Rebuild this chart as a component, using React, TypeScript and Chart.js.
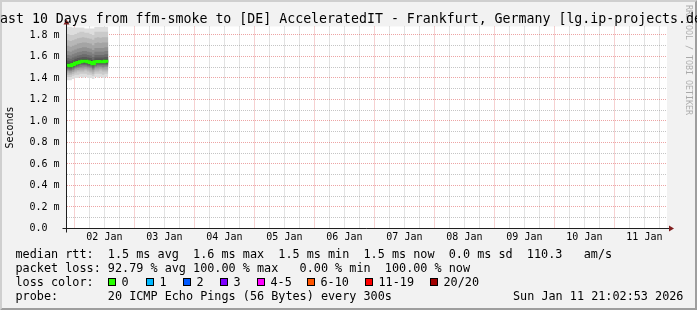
import { useEffect, useRef } from 'react';
import { Chart, registerables } from 'chart.js';

Chart.register(...registerables);

const W = 697;
const H = 310;

// ---- text ----
const titleText = 'Last 10 Days from ffm-smoke to [DE] AcceleratedIT - Frankfurt, Germany [lg.ip-projects.de]';
const yAxisTitle = 'Seconds';
const dayLabels = ['02 Jan', '03 Jan', '04 Jan', '05 Jan', '06 Jan', '07 Jan', '08 Jan', '09 Jan', '10 Jan', '11 Jan'];
const yGridValues = [0, 0.1, 0.2, 0.3, 0.4, 0.5, 0.6, 0.7, 0.8, 0.9, 1.0, 1.1, 1.2, 1.3, 1.4, 1.5, 1.6, 1.7, 1.8];
const yTickLabels = ['0.0  ', '0.2 m', '0.4 m', '0.6 m', '0.8 m', '1.0 m', '1.2 m', '1.4 m', '1.6 m', '1.8 m'];
const rangeHours = 240;
const firstMidnightHour = 2.952;
const yMax = 1.879;

// ---- data (ms), hourly steps from graph start ----
const stepStartHours = [0, 0.95, 1.95, 2.95, 3.95, 4.95, 5.95, 6.95, 7.95, 8.95, 9.95, 10.95, 11.95, 12.95, 13.95, 14.95, 15.95];
const dataEndHour = 16.5;
const medianRtt = [1.525, 1.518, 1.515, 1.525, 1.538, 1.545, 1.552, 1.555, 1.556, 1.552, 1.545, 1.532, 1.552, 1.553, 1.552, 1.552, 1.556];

const ping01 = [1.39, 1.38, 1.38, 1.39, 1.40, 1.40, 1.41, 1.40, 1.41, 1.40, 1.40, 1.39, 1.41, 1.40, 1.41, 1.40, 1.41];
const ping02 = [1.42, 1.41, 1.41, 1.42, 1.43, 1.43, 1.44, 1.44, 1.44, 1.43, 1.43, 1.42, 1.44, 1.44, 1.44, 1.43, 1.44];
const ping03 = [1.44, 1.43, 1.43, 1.44, 1.45, 1.46, 1.46, 1.46, 1.47, 1.46, 1.45, 1.44, 1.46, 1.46, 1.47, 1.46, 1.46];
const ping04 = [1.455, 1.45, 1.445, 1.455, 1.47, 1.475, 1.48, 1.48, 1.485, 1.48, 1.47, 1.46, 1.48, 1.48, 1.485, 1.48, 1.48];
const ping05 = [1.47, 1.465, 1.46, 1.47, 1.485, 1.49, 1.495, 1.495, 1.50, 1.495, 1.49, 1.475, 1.495, 1.495, 1.50, 1.495, 1.50];
const ping06 = [1.48, 1.475, 1.47, 1.48, 1.495, 1.50, 1.505, 1.51, 1.51, 1.505, 1.50, 1.485, 1.505, 1.51, 1.51, 1.505, 1.51];
const ping07 = [1.49, 1.485, 1.48, 1.49, 1.505, 1.51, 1.52, 1.52, 1.52, 1.515, 1.51, 1.495, 1.515, 1.52, 1.52, 1.52, 1.52];
const ping08 = [1.50, 1.495, 1.49, 1.50, 1.515, 1.52, 1.53, 1.53, 1.53, 1.525, 1.52, 1.51, 1.53, 1.53, 1.53, 1.53, 1.53];
const ping09 = [1.51, 1.505, 1.50, 1.51, 1.525, 1.53, 1.54, 1.54, 1.545, 1.54, 1.53, 1.52, 1.54, 1.54, 1.54, 1.54, 1.545];
const ping10 = [1.52, 1.513, 1.51, 1.52, 1.533, 1.54, 1.548, 1.55, 1.552, 1.548, 1.54, 1.528, 1.548, 1.55, 1.548, 1.548, 1.552];
const ping11 = [1.53, 1.523, 1.52, 1.53, 1.543, 1.55, 1.556, 1.56, 1.56, 1.556, 1.55, 1.536, 1.556, 1.556, 1.556, 1.556, 1.56];
const ping12 = [1.545, 1.54, 1.535, 1.545, 1.56, 1.565, 1.57, 1.575, 1.575, 1.57, 1.565, 1.55, 1.57, 1.57, 1.57, 1.57, 1.575];
const ping13 = [1.565, 1.56, 1.555, 1.565, 1.58, 1.585, 1.59, 1.595, 1.595, 1.59, 1.585, 1.57, 1.59, 1.59, 1.59, 1.59, 1.595];
const ping14 = [1.59, 1.585, 1.58, 1.59, 1.60, 1.61, 1.615, 1.62, 1.62, 1.615, 1.61, 1.595, 1.615, 1.615, 1.615, 1.615, 1.62];
const ping15 = [1.62, 1.615, 1.61, 1.62, 1.63, 1.64, 1.645, 1.65, 1.65, 1.645, 1.64, 1.625, 1.645, 1.645, 1.645, 1.645, 1.65];
const ping16 = [1.66, 1.65, 1.645, 1.655, 1.665, 1.675, 1.68, 1.685, 1.685, 1.68, 1.675, 1.66, 1.68, 1.68, 1.68, 1.68, 1.685];
const ping17 = [1.71, 1.70, 1.69, 1.70, 1.71, 1.72, 1.725, 1.73, 1.73, 1.725, 1.72, 1.705, 1.725, 1.73, 1.725, 1.73, 1.73];
const ping18 = [1.76, 1.75, 1.745, 1.75, 1.76, 1.77, 1.775, 1.78, 1.775, 1.77, 1.765, 1.755, 1.775, 1.78, 1.775, 1.78, 1.78];
const ping19 = [1.82, 1.81, 1.80, 1.80, 1.81, 1.82, 1.83, 1.83, 1.82, 1.82, 1.81, 1.80, 1.83, 1.83, 1.83, 1.83, 1.83];
const ping20 = [1.89, 1.89, 1.88, 1.87, 1.87, 1.87, 1.87, 1.87, 1.86, 1.86, 1.86, 1.86, 1.88, 1.88, 1.88, 1.88, 1.88];
const sortedPings = [ping01, ping02, ping03, ping04, ping05, ping06, ping07, ping08, ping09, ping10,
  ping11, ping12, ping13, ping14, ping15, ping16, ping17, ping18, ping19, ping20];

// ---- legend ----
const statsRtt = 'median rtt:  1.5 ms avg  1.6 ms max  1.5 ms min  1.5 ms now  0.0 ms sd  110.3   am/s';
const statsLoss = 'packet loss: 92.79 % avg 100.00 % max   0.00 % min  100.00 % now';
const lossColorTitle = 'loss color:';
const lossLabels = ['0', '1', '2', '3', '4-5', '6-10', '11-19', '20/20'];
const lossColors = ['#26ff00', '#00b8ff', '#0059ff', '#7e00ff', '#ff00ff', '#ff5500', '#ff0000', '#a10000'];
const probeText = 'probe:       20 ICMP Echo Pings (56 Bytes) every 300s';
const dateText = 'Sun Jan 11 21:02:53 2026';
const watermark = 'RRDTOOL / TOBI OETIKER';

// layout constants (styling)
const lossBoxLeft = [108, 146, 183, 220, 257, 307, 365, 430];
const MONO = "'DejaVu Sans Mono', monospace";

const xGridHours: number[] = [];
for (let h = firstMidnightHour; h < rangeHours; h += 6) xGridHours.push(h);

function toPoints(vals: number[]) {
  const pts = stepStartHours.map((h, i) => ({ x: h, y: vals[i] }));
  pts.push({ x: dataEndHour, y: vals[vals.length - 1] });
  return pts;
}

function buildDatasets() {
  const ds: any[] = [];
  ds.push({
    label: 'median',
    data: toPoints(medianRtt),
    borderColor: lossColors[0],
    borderWidth: 3,
    stepped: 'after',
    pointRadius: 0,
    fill: false,
    xAxisID: 'x',
    yAxisID: 'y',
  });
  const half = 10;
  for (let k = half; k >= 1; k--) {
    const g = Math.floor((190 / half) * (half - k)) + 50;
    const col = `rgb(${g},${g},${g})`;
    ds.push({
      label: 'smoke-up-' + k,
      data: toPoints(sortedPings[20 - k]),
      borderColor: 'transparent',
      borderWidth: 0,
      backgroundColor: col,
      stepped: 'after',
      pointRadius: 0,
      fill: '+1',
      xAxisID: 'x',
      yAxisID: 'y',
    });
    ds.push({
      label: 'smoke-low-' + k,
      data: toPoints(sortedPings[k - 1]),
      borderColor: 'transparent',
      borderWidth: 0,
      stepped: 'after',
      pointRadius: 0,
      fill: false,
      xAxisID: 'x',
      yAxisID: 'y',
    });
  }
  return ds;
}

const MINOR = 'rgba(150,150,150,0.55)';
const MAJOR = 'rgba(222,90,90,0.55)';

const framePlugin = {
  id: 'rrdFrame',
  beforeDraw(chart: any) {
    const { ctx, chartArea: a } = chart;
    ctx.save();
    ctx.fillStyle = '#f2f2f2';
    ctx.fillRect(0, 0, W, H);
    ctx.fillStyle = '#cfcfcf';
    ctx.beginPath();
    ctx.moveTo(0, H); ctx.lineTo(2, H - 2); ctx.lineTo(2, 2); ctx.lineTo(W - 2, 2); ctx.lineTo(W, 0); ctx.lineTo(0, 0);
    ctx.closePath(); ctx.fill();
    ctx.fillStyle = '#9e9e9e';
    ctx.beginPath();
    ctx.moveTo(2, H - 2); ctx.lineTo(W - 2, H - 2); ctx.lineTo(W - 2, 2); ctx.lineTo(W, 0); ctx.lineTo(W, H); ctx.lineTo(0, H);
    ctx.closePath(); ctx.fill();
    ctx.fillStyle = '#ffffff';
    ctx.fillRect(a.left, a.top, a.right - a.left, a.bottom - a.top);
    ctx.restore();
  },
  afterDraw(chart: any) {
    const { ctx, chartArea: a } = chart;
    const x0 = a.left - 0.5;
    const y0 = a.bottom;
    ctx.save();
    ctx.strokeStyle = '#1f1f1f';
    ctx.lineWidth = 1;
    ctx.beginPath();
    ctx.moveTo(x0 - 4, y0); ctx.lineTo(a.right + 4, y0);
    ctx.moveTo(x0, y0 + 4); ctx.lineTo(x0, a.top - 4);
    ctx.stroke();
    ctx.fillStyle = '#801f1f';
    ctx.beginPath();
    ctx.moveTo(a.right + 2, y0 - 3); ctx.lineTo(a.right + 2, y0 + 3); ctx.lineTo(a.right + 7, y0);
    ctx.closePath(); ctx.fill();
    ctx.beginPath();
    ctx.moveTo(x0 - 3, a.top - 2); ctx.lineTo(x0 + 3, a.top - 2); ctx.lineTo(x0, a.top - 7);
    ctx.closePath(); ctx.fill();
    ctx.restore();
  },
};

export default function App() {
  const ref = useRef<HTMLCanvasElement>(null);
  useEffect(() => {
    if (!ref.current) return;
    const tickFont = { family: MONO, size: 10 };
    const chart = new Chart(ref.current, {
      type: 'line',
      data: { datasets: buildDatasets() },
      options: {
        animation: false,
        responsive: false,
        devicePixelRatio: 1,
        layout: { padding: { top: 26.5, left: 0, right: 0, bottom: 0 } },
        plugins: {
          legend: { display: false },
          tooltip: { enabled: false },
          title: { display: false },
        },
        scales: {
          x: {
            type: 'linear',
            min: 0,
            max: rangeHours,
            afterBuildTicks: (s: any) => { s.ticks = xGridHours.map((v) => ({ value: v })); },
            afterFit: (s: any) => { s.height = 81.5; },
            grid: {
              color: (c: any) => (c.index % 4 === 0 ? MAJOR : MINOR),
              lineWidth: 1,
              drawTicks: false,
            },
            border: { display: false, dash: [1, 1] },
            ticks: {
              autoSkip: false,
              maxRotation: 0,
              padding: 3,
              color: '#000',
              font: tickFont,
              callback: (_v: any, i: number) => (i % 4 === 2 ? dayLabels[(i - 2) / 4] : ''),
            },
          },
          y: {
            type: 'linear',
            min: 0,
            max: yMax,
            afterBuildTicks: (s: any) => { s.ticks = yGridValues.map((v) => ({ value: v })); },
            afterFit: (s: any) => { s.width = 67; },
            grid: {
              color: (c: any) => (c.index % 2 === 0 ? MAJOR : MINOR),
              lineWidth: 1,
              drawTicks: false,
            },
            border: { display: false, dash: [1, 1] },
            ticks: {
              autoSkip: false,
              padding: 7.4,
              color: '#000',
              font: tickFont,
              callback: (_v: any, i: number) => (i % 2 === 0 ? yTickLabels[i / 2] : ''),
            },
            title: {
              display: true,
              text: yAxisTitle,
              color: '#000',
              font: { family: MONO, size: 10 },
              padding: { top: 4, bottom: 0 },
            },
          },
          yRight: {
            type: 'linear',
            position: 'right',
            display: true,
            grid: { display: false },
            ticks: { display: false },
            border: { display: false },
            afterFit: (s: any) => { s.width = 30; },
          },
        },
      } as any,
      plugins: [framePlugin],
    } as any);
    return () => chart.destroy();
  }, []);

  const textStyle: any = {
    position: 'absolute',
    fontFamily: MONO,
    fontSize: '11.8px',
    lineHeight: '14px',
    whiteSpace: 'pre',
    color: '#000',
    margin: 0,
  };
  const rowTop = (i: number) => 246.7 + 14.05 * i;

  return (
    <div style={{ position: 'absolute', left: 0, top: 0, width: W, height: H, overflow: 'hidden' }}>
      <canvas ref={ref} width={W} height={H} style={{ display: 'block', width: W, height: H }} />
      <div
        style={{
          position: 'absolute',
          left: 351,
          top: 10.5,
          transform: 'translateX(-50%)',
          fontFamily: MONO,
          fontSize: '13.25px',
          lineHeight: '16px',
          whiteSpace: 'pre',
          color: '#000',
        }}
      >
        {titleText}
      </div>
      <div style={{ ...textStyle, left: 15.5, top: rowTop(0) }}>{statsRtt}</div>
      <div style={{ ...textStyle, left: 15.5, top: rowTop(1) }}>{statsLoss}</div>
      <div style={{ ...textStyle, left: 15.5, top: rowTop(2) }}>{lossColorTitle}</div>
      {lossLabels.map((lab, i) => (
        <div key={lab}>
          <div
            style={{
              position: 'absolute',
              left: lossBoxLeft[i],
              top: 278,
              width: 8,
              height: 8,
              boxSizing: 'border-box',
              border: '1px solid #000',
              background: lossColors[i],
            }}
          />
          <div style={{ ...textStyle, left: lossBoxLeft[i] + 13.5, top: rowTop(2) }}>{lab}</div>
        </div>
      ))}
      <div style={{ ...textStyle, left: 15.5, top: rowTop(3) }}>{probeText}</div>
      <div style={{ ...textStyle, left: 513, top: rowTop(3) }}>{dateText}</div>
      <div
        style={{
          position: 'absolute',
          left: 683.5,
          top: 4.5,
          writingMode: 'vertical-rl',
          fontFamily: MONO,
          fontSize: '8.3px',
          lineHeight: '9px',
          whiteSpace: 'pre',
          color: 'rgba(0,0,0,0.3)',
        }}
      >
        {watermark}
      </div>
    </div>
  );
}
